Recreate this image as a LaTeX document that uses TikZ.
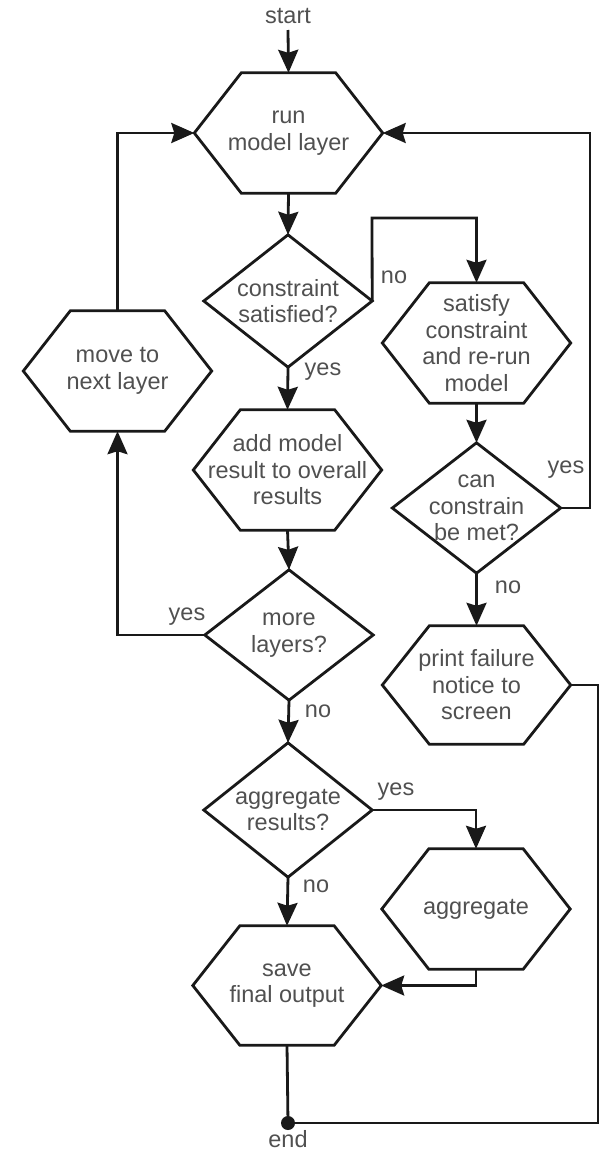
\documentclass[tikz,border=0pt]{standalone}
\usepackage{fontspec}
\setmainfont{Liberation Sans}
\usetikzlibrary{arrows.meta,calc}
\definecolor{linec}{RGB}{25,25,25}
\definecolor{textc}{RGB}{80,80,80}
\tikzset{
  box/.style={rectangle, inner sep=0pt, align=center, text=textc,
    font=\fontsize{23.5}{26.5}\selectfont},
  hexbox/.style={box, minimum width=188pt, minimum height=120pt},
  diabox/.style={box, minimum width=168pt, minimum height=132pt},
  lbl/.style={text=textc, inner sep=0pt, font=\fontsize{23.5}{26.5}\selectfont},
  conn/.style={draw=linec, line width=2.8pt},
  arr/.style={conn, -{Stealth[length=23pt,width=20pt,inset=3pt]}},
  shp/.style={draw=linec, line width=2.8pt, line join=miter}
}
\begin{document}
\begin{tikzpicture}[x=1pt,y=-1pt]
\useasboundingbox (0,0) rectangle (604,1151);
% nodes
\node[lbl] (start) at (288,16) {start};
\node[hexbox] (run) at (288.5,133) {run\\model layer};
\node[diabox] (cons) at (288,301) {constraint\\satisfied?};
\node[hexbox] (sat) at (476.5,343) {satisfy\\constraint\\and re-run\\model};
\node[hexbox] (add) at (287.5,470) {add model\\result to overall\\results};
\node[hexbox] (move) at (117.5,371) {move to\\next layer};
\node[diabox, minimum height=130pt] (can) at (476.5,508) {can\\constrain\\be met?};
\node[diabox, minimum height=130pt] (more) at (289,635) {more\\layers?};
\node[hexbox, minimum height=118pt] (print) at (476.5,685) {print failure\\notice to\\screen};
\node[diabox, minimum height=134pt] (aggq) at (288,810) {aggregate\\results?};
\node[hexbox] (aggh) at (476,909) {aggregate};
\node[hexbox, minimum height=119pt] (save) at (287,985.5) {save\\final output};
\node[lbl] (endlbl) at (288,1139) {end};
\coordinate (s0) at (288,30);
\coordinate (enddot) at (288,1123);
\coordinate (c1) at (372,218);
\coordinate (c2) at (590,133);
\coordinate (c3) at (598,1123);
% shapes
\foreach \n in {run,sat,add,move,print,aggh,save}{
  \draw[shp] (\n.west) -- ([xshift=47pt]\n.north west) -- ([xshift=-47pt]\n.north east)
    -- (\n.east) -- ([xshift=-47pt]\n.south east) -- ([xshift=47pt]\n.south west) -- cycle;
}
\foreach \n in {cons,can,more,aggq}{
  \draw[shp] (\n.north) -- (\n.east) -- (\n.south) -- (\n.west) -- cycle;
}
% connectors
\draw[arr] (s0) -- (run.north);
\draw[arr] (run.south) -- (cons.north);
\draw[arr] (cons.east) -- (c1) -| (sat.north);
\draw[arr] (cons.south) -- (add.north);
\draw[arr] (sat.south) -- (can.north);
\draw[arr] (can.east) -| (c2) -- (run.east);
\draw[arr] (can.south) -- (print.north);
\draw[arr] (add.south) -- (more.north);
\draw[arr] (more.west) -| (move.south);
\draw[arr] (move.north) |- (run.west);
\draw[arr] (more.south) -- (aggq.north);
\draw[arr] (aggq.east) -| (aggh.north);
\draw[arr] (aggq.south) -- (save.north);
\draw[arr] (aggh.south) |- (save.east);
\draw[conn] (save.south) -- (enddot);
\draw[conn] (print.east) -| (c3) -- (enddot);
\fill[linec] (enddot) circle (7pt);
% labels
\node[lbl] at (394,277) {no};
\node[lbl] at (323,372) {yes};
\node[lbl] at (566,470) {yes};
\node[lbl] at (508,587) {no};
\node[lbl] at (187,617) {yes};
\node[lbl] at (318,711) {no};
\node[lbl] at (396,792) {yes};
\node[lbl] at (316,886) {no};
\end{tikzpicture}
\end{document}
